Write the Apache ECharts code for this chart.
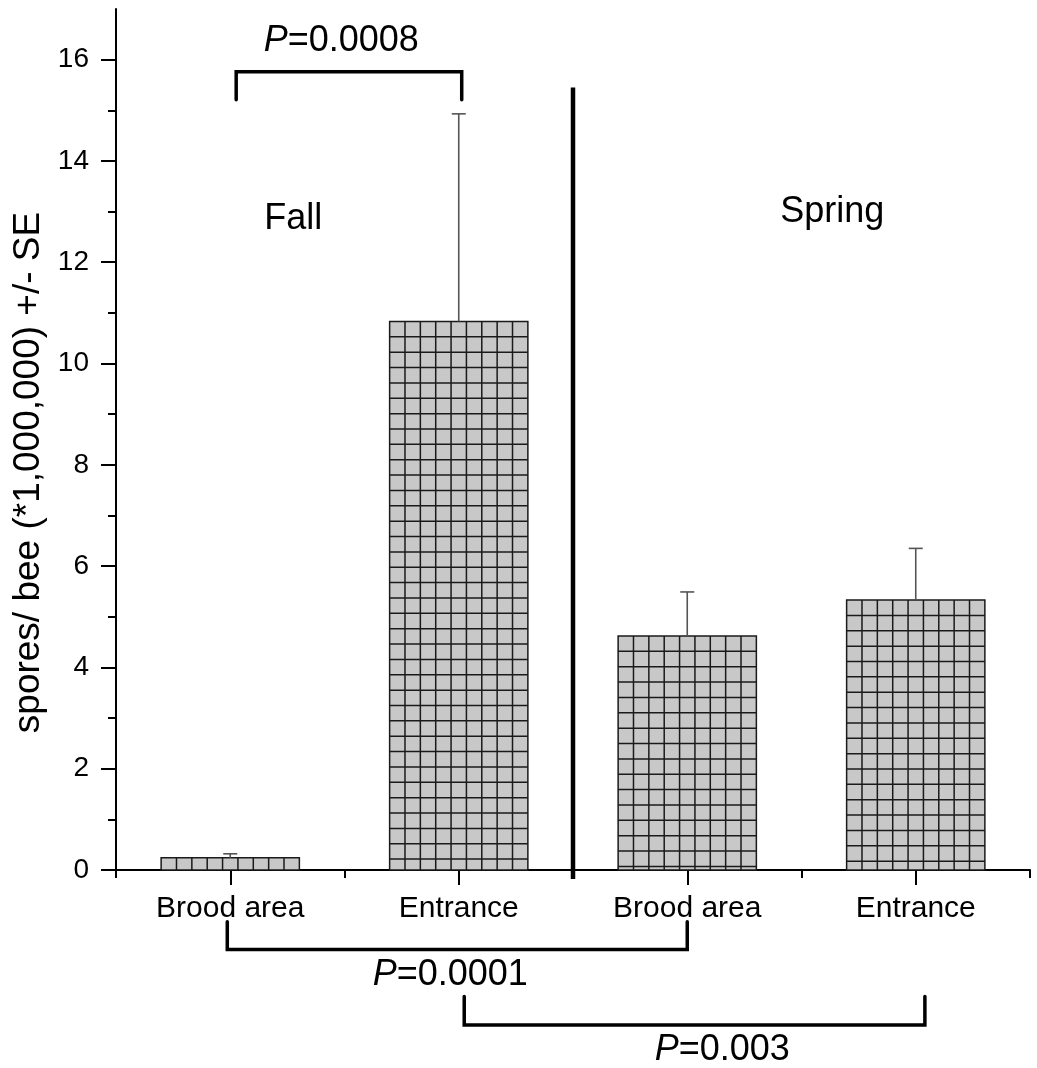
<!DOCTYPE html>
<html>
<head>
<meta charset="utf-8">
<title>Spores per bee</title>
<script src="https://cdn.jsdelivr.net/npm/echarts@6/dist/echarts.min.js"></script>
<style>
  html, body { margin: 0; padding: 0; background: #fff; }
  #chart { width: 1037px; height: 1068px; }
</style>
</head>
<body>
<div id="chart"></div>
<script>
// values (spores per bee, millions)
const categories = ['Brood area', 'Entrance', 'Brood area', 'Entrance'];
const means = [0.24, 10.83, 4.62, 5.33];
const upperSE = [0.32, 14.93, 5.49, 6.35];
const majorTicks = [0, 2, 4, 6, 8, 10, 12, 14, 16];
const minorTicks = [1, 3, 5, 7, 9, 11, 13, 15];
const seasons = ['Fall', 'Spring'];
// pairwise comparisons (category index pairs) and their P values
const comparisons = [[0, 1], [0, 2], [1, 3]];
const pValues = ['0.0008', '0.0001', '0.003'];

const FONT = '"Liberation Sans", Arial, sans-serif';

// where each bracket sits: y of the bar, y where legs end, label y, label x (category units), end offsets
const bracketLayout = [
  { y: 15.76, leg: 15.21, labelY: 16.36, labelX: 0.486, dx: [0.026, 0.013] },
  { y: -1.57, leg: -1.02, labelY: -2.07, labelX: 0.963, dx: [-0.013, 0.0] },
  { y: -3.06, leg: -2.50, labelY: -3.55, labelX: 2.153, dx: [0.024, 0.04] }
];
const seasonLayout = [
  { x: 0.276, y: 12.85 },
  { x: 2.635, y: 12.99 }
];

const chart = echarts.init(document.getElementById('chart'));

function xAt(api, c) {
  const x0 = api.coord([0, 0])[0];
  const band = api.size([1, 0])[0];
  return x0 + c * band;
}

function renderBar(params, api) {
  const idx = api.value(0);
  const base = api.coord([idx, 0]);
  const top = api.coord([idx, api.value(1)]);
  const errTop = api.coord([idx, api.value(2)]);
  const w = api.size([1, 0])[0] * 0.605;
  const x = base[0] - w / 2;
  const step = w / 9;
  const lineStyle = { stroke: '#1a1a1a', lineWidth: 1.5 };
  const children = [{
    type: 'rect',
    shape: { x: x, y: top[1], width: w, height: base[1] - top[1] },
    style: { fill: '#c8c8c8', stroke: '#1a1a1a', lineWidth: 1.5 }
  }];
  for (let i = 1; i < 9; i++) {
    children.push({
      type: 'line',
      shape: { x1: x + i * step, y1: top[1], x2: x + i * step, y2: base[1] },
      style: lineStyle
    });
  }
  for (let yy = top[1] + step; yy < base[1] - 2; yy += step) {
    children.push({
      type: 'line',
      shape: { x1: x, y1: yy, x2: x + w, y2: yy },
      style: lineStyle
    });
  }
  // upper standard error
  children.push({
    type: 'line',
    shape: { x1: base[0], y1: top[1], x2: base[0], y2: errTop[1] },
    style: { stroke: '#555', lineWidth: 1.6 }
  });
  children.push({
    type: 'line',
    shape: { x1: base[0] - 7, y1: errTop[1], x2: base[0] + 7, y2: errTop[1] },
    style: { stroke: '#555', lineWidth: 1.6 }
  });
  return { type: 'group', children: children };
}

function renderBracket(params, api) {
  const i = params.dataIndex;
  const pair = comparisons[i];
  const lay = bracketLayout[i];
  const xl = xAt(api, pair[0] + lay.dx[0]);
  const xr = xAt(api, pair[1] + lay.dx[1]);
  const yb = api.coord([0, lay.y])[1];
  const yl = api.coord([0, lay.leg])[1];
  const lab = api.coord([0, lay.labelY])[1];
  return {
    type: 'group',
    children: [{
      type: 'polyline',
      shape: { points: [[xl, yl], [xl, yb], [xr, yb], [xr, yl]] },
      style: { stroke: '#000', lineWidth: 3.5, fill: null, lineJoin: 'miter', lineCap: 'round' }
    }, {
      type: 'text',
      x: xAt(api, lay.labelX),
      y: lab,
      style: {
        text: '{i|P}=' + pValues[i],
        align: 'center',
        verticalAlign: 'middle',
        fontSize: 36,
        fontFamily: FONT,
        fill: '#000',
        rich: { i: { fontStyle: 'italic', fontSize: 36, fontFamily: FONT, fill: '#000' } }
      }
    }]
  };
}

function renderSeasons(params, api) {
  const children = [{
    type: 'line',
    shape: {
      x1: xAt(api, 1.5), y1: api.coord([0, 15.45])[1],
      x2: xAt(api, 1.5), y2: api.coord([0, -0.18])[1]
    },
    style: { stroke: '#000', lineWidth: 4.5 }
  }];
  seasons.forEach(function (s, k) {
    children.push({
      type: 'text',
      x: xAt(api, seasonLayout[k].x),
      y: api.coord([0, seasonLayout[k].y])[1],
      style: {
        text: s, align: 'center', verticalAlign: 'middle',
        fontSize: 36, fontFamily: FONT, fill: '#000'
      }
    });
  });
  return { type: 'group', children: children };
}

const axisLine = { show: true, lineStyle: { color: '#000', width: 2 } };

chart.setOption({
  animation: false,
  backgroundColor: '#fff',
  grid: { left: 116, right: 7, top: 9, bottom: 198 },
  xAxis: [{
    type: 'category',
    data: categories,
    position: 'bottom',
    boundaryGap: true,
    axisLine: axisLine,
    axisTick: { show: true, length: 8, inside: false, lineStyle: { color: '#000', width: 2 } },
    axisLabel: { color: '#000', fontSize: 30, fontFamily: FONT, margin: 24, interval: 0 },
    splitLine: { show: false }
  }, {
    type: 'category',
    data: categories,
    position: 'bottom',
    boundaryGap: true,
    axisLine: { show: false },
    axisTick: { show: true, alignWithLabel: true, length: 15, lineStyle: { color: '#000', width: 2 } },
    axisLabel: { show: false },
    splitLine: { show: false }
  }],
  yAxis: [{
    type: 'value',
    position: 'left',
    min: 0,
    max: 17,
    name: 'spores/ bee (*1,000,000) +/- SE',
    nameLocation: 'middle',
    nameRotate: 90,
    nameGap: 69,
    nameTextStyle: { color: '#000', fontSize: 37, fontFamily: FONT, padding: [0, 66, 0, 0] },
    axisLine: axisLine,
    axisTick: { show: true, length: 15, customValues: majorTicks, lineStyle: { color: '#000', width: 2 } },
    axisLabel: { color: '#000', fontSize: 28, fontFamily: FONT, margin: 27, customValues: majorTicks },
    splitLine: { show: false }
  }, {
    type: 'value',
    position: 'left',
    offset: 0,
    min: 0,
    max: 17,
    axisLine: { show: false },
    axisTick: { show: true, length: 8, customValues: minorTicks, lineStyle: { color: '#000', width: 2 } },
    axisLabel: { show: false },
    splitLine: { show: false }
  }],
  series: [{
    type: 'custom',
    name: 'bars',
    renderItem: renderBar,
    encode: { x: 0, y: [1, 2] },
    data: means.map(function (v, i) { return [i, v, upperSE[i]]; }),
    z: 2
  }, {
    type: 'custom',
    name: 'comparisons',
    renderItem: renderBracket,
    clip: false,
    data: comparisons.map(function (c, i) { return [c[0], c[1]]; }),
    encode: { x: 0 },
    z: 3
  }, {
    type: 'custom',
    name: 'seasons',
    renderItem: renderSeasons,
    clip: false,
    data: [[0, 0]],
    encode: { x: 0 },
    z: 3
  }]
});
</script>
</body>
</html>
